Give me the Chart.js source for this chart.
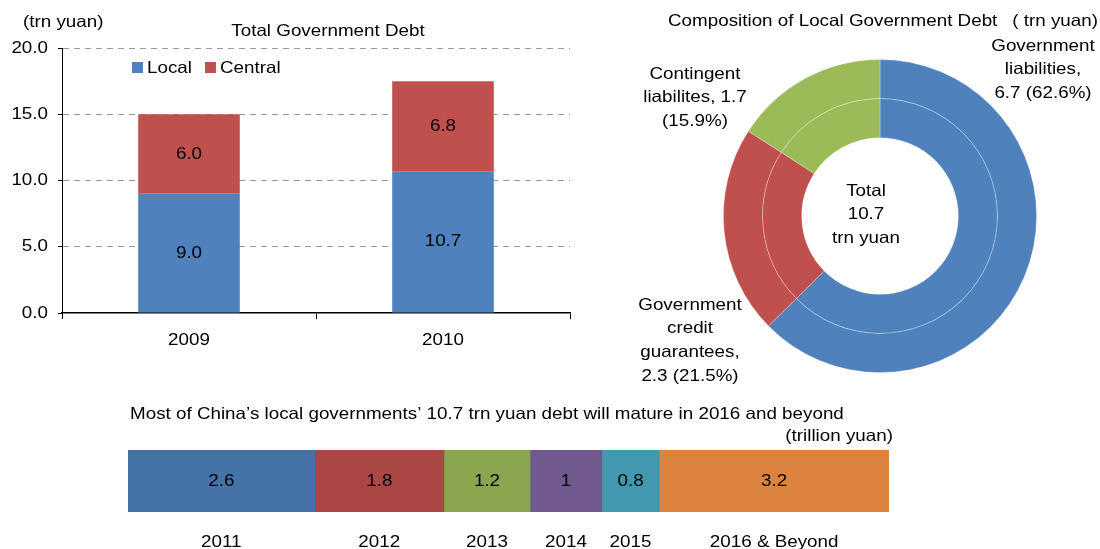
<!DOCTYPE html>
<html>
<head>
<meta charset="utf-8">
<script src="https://cdn.jsdelivr.net/npm/chart.js@4.4.0/dist/chart.umd.min.js"></script>
<style>
  body { margin: 0; background: #fff; }
  canvas { position: absolute; }
</style>
</head>
<body>
<canvas id="debtChart" width="590" height="360" style="left:0;top:0"></canvas>
<canvas id="compChart" width="500" height="400" style="left:600px;top:0"></canvas>
<canvas id="maturityChart" width="1100" height="154" style="left:0;top:395px"></canvas>
<script>
// total government debt, trn yuan
const debtYears = ["2009", "2010"];
const localDebt = [9.0, 10.7];
const centralDebt = [6.0, 6.8];

// composition of local government debt
const compNames = ["Government liabilities", "Government credit guarantees", "Contingent liabilites"];
const compValues = [6.7, 2.3, 1.7];
const compShares = [62.6, 21.5, 15.9];
const compTotal = 10.7;

// maturity profile, trillion yuan
const maturityYears = ["2011", "2012", "2013", "2014", "2015", "2016 & Beyond"];
const maturityValues = [2.6, 1.8, 1.2, 1, 0.8, 3.2];

Chart.defaults.font.family = "'Liberation Sans', Arial, sans-serif";
Chart.defaults.font.size = 16;
Chart.defaults.color = "#000";
Chart.defaults.animation = false;
Chart.defaults.plugins.legend.display = false;
Chart.defaults.plugins.tooltip.enabled = false;

const blue = "#4F81BD", red = "#C0504D", green = "#9BBB59";
const FONT = "16.5px 'Liberation Sans', Arial, sans-serif";
const SX = 1.14; // the source text is a bit wide

// draw one piece of text, slightly widened like the source
function txt(ctx, s, x, y, align) {
  ctx.save();
  ctx.font = FONT;
  ctx.fillStyle = "#000";
  ctx.textAlign = align || "center";
  ctx.textBaseline = "middle";
  ctx.translate(x, y);
  ctx.scale(SX, 1);
  ctx.fillText(s, 0, 0);
  ctx.restore();
}
function txtWidth(ctx, s) {
  ctx.save();
  ctx.font = FONT;
  const w = ctx.measureText(s).width * SX;
  ctx.restore();
  return w;
}

// labels, ticks, legend and titles for the bar chart
const debtText = {
  id: "debtText",
  afterDraw(chart) {
    const ctx = chart.ctx;
    const xs = chart.scales.x, ys = chart.scales.y;
    chart.data.datasets.forEach((ds, i) => {
      chart.getDatasetMeta(i).data.forEach((bar, j) => {
        txt(ctx, ds.data[j].toFixed(1), bar.x, (bar.y + bar.base) / 2);
      });
    });
    ys.ticks.forEach(t => txt(ctx, t.value.toFixed(1), ys.right - 14, ys.getPixelForValue(t.value), "right"));
    chart.data.labels.forEach((l, i) => txt(ctx, l, xs.getPixelForTick(i), xs.top + 27));
    txt(ctx, "Total Government Debt", 328, 31);
    txt(ctx, "(trn yuan)", 23, 22, "left");
    // legend
    let x = 132;
    chart.data.datasets.forEach(ds => {
      ctx.fillStyle = ds.backgroundColor;
      ctx.fillRect(x, 62, 11, 11);
      txt(ctx, ds.label, x + 15, 68, "left");
      x += 15 + txtWidth(ctx, ds.label) + 13;
    });
  }
};

new Chart("debtChart", {
  type: "bar",
  data: {
    labels: debtYears,
    datasets: [
      { label: "Local", data: localDebt, backgroundColor: blue },
      { label: "Central", data: centralDebt, backgroundColor: red }
    ]
  },
  options: {
    responsive: false,
    layout: { padding: { top: 48, right: 20 } },
    datasets: { bar: { categoryPercentage: 1, barPercentage: 0.4 } },
    scales: {
      x: {
        stacked: true,
        afterFit(s) { s.height = 47; },
        grid: { drawOnChartArea: false, tickLength: 6, tickColor: "#000" },
        border: { color: "#000", width: 1.5 },
        ticks: { display: false }
      },
      y: {
        stacked: true,
        min: 0, max: 20,
        afterFit(s) { s.width = 62; },
        ticks: { stepSize: 5, display: false },
        grid: {
          color: c => c.tick.value === 0 ? "rgba(0,0,0,0)" : "#9a9a9a",
          tickColor: "#000", tickLength: 4
        },
        border: { color: "#000", dash: [6, 5] }
      }
    }
  },
  plugins: [debtText]
});

// centre text, side labels and title for the doughnut
const compText = {
  id: "compText",
  afterDatasetsDraw(chart) {
    const ctx = chart.ctx;
    const a = chart.chartArea;
    const cx = (a.left + a.right) / 2, cy = (a.top + a.bottom) / 2;
    ["Total", compTotal.toFixed(1), "trn yuan"].forEach((t, i) => txt(ctx, t, cx - 14, cy - 25 + i * 23.5));
    const lines = [
      ["Government", "liabilities,", compValues[0] + " (" + compShares[0] + "%)"],
      ["Government", "credit", "guarantees,", compValues[1] + " (" + compShares[1] + "%)"],
      ["Contingent", "liabilites, " + compValues[2], "(" + compShares[2] + "%)"]
    ];
    const spots = [[443, 46], [90, 305], [95, 74]];
    lines.forEach((ls, i) => {
      ls.forEach((t, k) => txt(ctx, t, spots[i][0], spots[i][1] + k * 23.7));
    });
    txt(ctx, "Composition of Local Government Debt", 68, 21, "left");
    txt(ctx, "( trn yuan)", 498, 21, "right");
  }
};

const ring = () => ({
  data: compValues,
  backgroundColor: [blue, red, green],
  borderColor: "rgba(255,255,255,0.35)",
  borderWidth: 0.8
});

new Chart("compChart", {
  type: "doughnut",
  data: { labels: compNames, datasets: [ring(), ring()] },
  options: {
    responsive: false,
    cutout: "50%",
    layout: { padding: { left: 123, right: 63, top: 59, bottom: 27 } }
  },
  plugins: [compText]
});

// maturity strip
const maturityColors = ["#4572A7", "#AA4643", "#89A54E", "#71588F", "#4198AF", "#DB843D"];

const maturityText = {
  id: "maturityText",
  afterDatasetsDraw(chart) {
    const ctx = chart.ctx;
    const a = chart.chartArea;
    chart.data.datasets.forEach((ds, i) => {
      const seg = chart.getDatasetMeta(i).data[0];
      const mid = (seg.x + seg.base) / 2;
      txt(ctx, String(ds.data[0]), mid, seg.y);
      txt(ctx, ds.label, mid, a.bottom + 30);
    });
    txt(ctx, "Most of China\u2019s local governments\u2019 10.7 trn yuan debt will mature in 2016 and beyond", 130, 19, "left");
    txt(ctx, "(trillion yuan)", a.right + 4, 41, "right");
  }
};

new Chart("maturityChart", {
  type: "bar",
  data: {
    labels: [""],
    datasets: maturityYears.map((y, i) => ({
      label: y,
      data: [maturityValues[i]],
      backgroundColor: maturityColors[i],
      categoryPercentage: 1,
      barPercentage: 1
    }))
  },
  options: {
    responsive: false,
    indexAxis: "y",
    layout: { padding: { left: 128, right: 211, top: 55, bottom: 37 } },
    scales: {
      x: { stacked: true, min: 0, max: maturityValues.reduce((s, v) => s + v, 0), display: false },
      y: { stacked: true, display: false }
    }
  },
  plugins: [maturityText]
});
</script>
</body>
</html>
